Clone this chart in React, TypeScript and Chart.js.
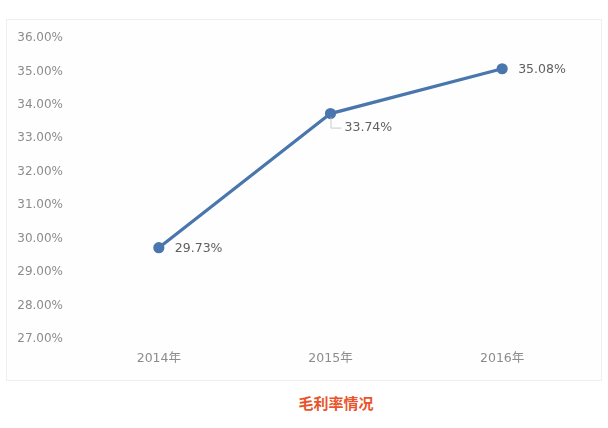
import { useEffect, useRef } from "react";
import { Chart, registerables } from "chart.js";

Chart.register(...registerables);

// data
const years = ["2014年", "2015年", "2016年"];
const grossMargin = [29.73, 33.74, 35.08];
const yMin = 27;
const yMax = 36;

const lineColor = "#4a76ae";

// draws the value next to every point, 2015 has a small leader line
const valueLabels = {
    id: "valueLabels",
    afterDatasetsDraw(chart: any) {
        const ctx = chart.ctx;
        const meta = chart.getDatasetMeta(0);
        ctx.save();
        ctx.font = "12.5px 'DejaVu Sans'";
        ctx.fillStyle = "#606060";
        ctx.textBaseline = "middle";
        ctx.textAlign = "left";
        meta.data.forEach((pt: any, i: number) => {
            const v = grossMargin[i].toFixed(2) + "%";
            if (i === 1) {
                ctx.strokeStyle = "#c4ccd6";
                ctx.lineWidth = 1;
                ctx.beginPath();
                ctx.moveTo(pt.x + 0.5, pt.y + 4);
                ctx.lineTo(pt.x + 0.5, pt.y + 14.5);
                ctx.lineTo(pt.x + 11, pt.y + 14.5);
                ctx.stroke();
                ctx.fillText(v, pt.x + 14, pt.y + 14);
            } else {
                ctx.fillText(v, pt.x + 16, pt.y + 1);
            }
        });
        ctx.restore();
    },
};

export default function App() {
    const chartRef = useRef<HTMLCanvasElement | null>(null);

    useEffect(() => {
        document.body.style.margin = "0";
        if (!chartRef.current) return;
        const ctx = chartRef.current.getContext("2d");
        if (!ctx) return;

        const myChart = new Chart(ctx, {
            type: "line",
            data: {
                labels: years,
                datasets: [
                    {
                        label: "毛利率",
                        data: grossMargin,
                        borderColor: lineColor,
                        backgroundColor: lineColor,
                        borderWidth: 3.2,
                        pointRadius: 4,
                        pointBackgroundColor: lineColor,
                        pointBorderColor: lineColor,
                        tension: 0,
                    },
                ],
            },
            options: {
                animation: false,
                responsive: false,
                layout: { padding: { top: 18, right: 12, bottom: 0, left: 0 } },
                plugins: {
                    legend: { display: false },
                    tooltip: { enabled: false },
                },
                scales: {
                    x: {
                        offset: true,
                        grid: { display: false, drawTicks: false },
                        border: { display: false },
                        ticks: {
                            color: "#8c8c8c",
                            padding: 12,
                            font: { family: "'DejaVu Sans', 'Noto Sans CJK SC'", size: 12.5 },
                        },
                        afterFit: (scale: any) => {
                            scale.height = 41;
                        },
                    },
                    y: {
                        min: yMin,
                        max: yMax,
                        grid: { display: false, drawTicks: false },
                        border: { display: false },
                        ticks: {
                            stepSize: 1,
                            color: "#8c8c8c",
                            padding: 10,
                            font: { family: "'DejaVu Sans'", size: 12 },
                            callback: (v: any) => Number(v).toFixed(2) + "%",
                        },
                        afterFit: (scale: any) => {
                            scale.width = 66;
                        },
                    },
                },
            },
            plugins: [valueLabels],
        });

        return () => {
            myChart.destroy();
        };
    }, []);

    return (
        <div style={{ position: "relative", width: 608, height: 428, background: "#fff", fontFamily: "'Noto Sans CJK SC', sans-serif" }}>
            <div
                style={{
                    position: "absolute",
                    left: 6,
                    top: 19,
                    width: 594,
                    height: 360,
                    border: "1px solid #f0f0f0",
                    background: "#fefefe",
                }}
            >
                <canvas ref={chartRef} width="593" height="360"></canvas>
            </div>
            <div
                style={{
                    position: "absolute",
                    left: 0,
                    top: 393,
                    width: 672,
                    textAlign: "center",
                    color: "#e8552c",
                    fontWeight: "bold",
                    fontSize: 15,
                    lineHeight: "20px",
                }}
            >
                毛利率情况
            </div>
        </div>
    );
}
